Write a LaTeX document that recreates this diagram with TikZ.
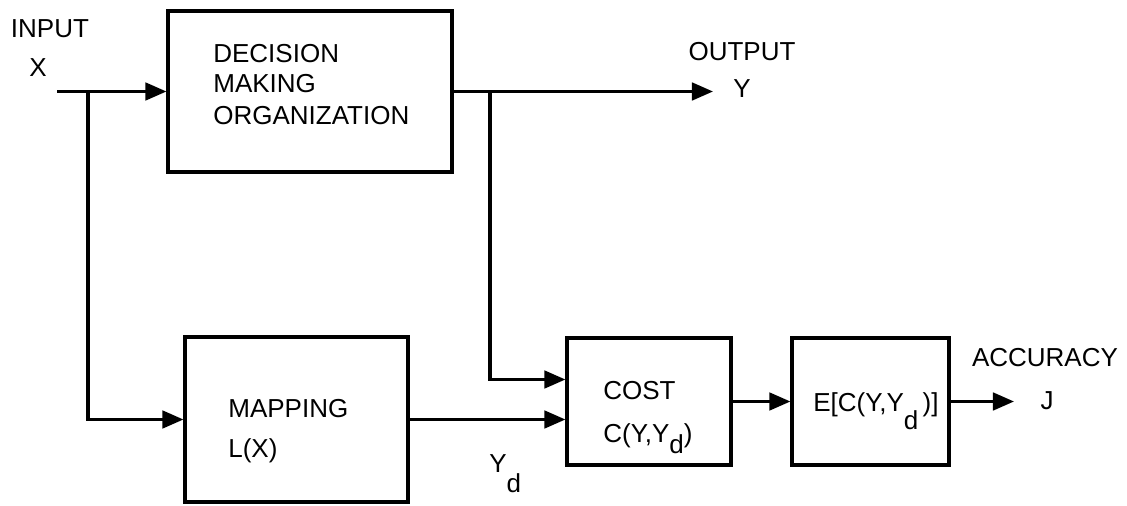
\documentclass[tikz,border=0pt]{standalone}
\usepackage{fontspec}
\setmainfont{Liberation Sans}
\usetikzlibrary{arrows.meta}
\newcommand{\lowd}[1]{\raisebox{-#1}{d}}

\begin{document}
\begin{tikzpicture}[x=0.02cm, y=-0.02cm,
    every node/.style={font=\fontsize{14.8}{17.6}\selectfont},
    blk/.style={draw, line width=1.8pt, inner sep=0pt},
    txt/.style={inner sep=0pt, anchor=base west},
    lbl/.style={inner sep=0pt, anchor=base},
    wire/.style={line width=1.8pt},
    sig/.style={wire, -{Triangle[length=12pt, width=10pt]}}]
    \useasboundingbox (0,0) rectangle (1127,506);

    % Blocks
    \node[blk, minimum width=5.68cm, minimum height=3.22cm] (dmo) at (310,91.5) {};
    \node[blk, minimum width=4.46cm, minimum height=3.3cm] (map) at (296.5,419.5) {};
    \node[blk, minimum width=3.28cm, minimum height=2.54cm] (cost) at (649,401.5) {};
    \node[blk, minimum width=3.14cm, minimum height=2.54cm] (expect) at (870.5,401.5) {};

    % Block texts
    \node[txt] (dmo1) at (213,63) {DECISION};
    \node[txt] (dmo2) at (213,93) {MAKING};
    \node[txt] (dmo3) at (213,125) {ORGANIZATION};
    \node[txt] (map1) at (228,418) {MAPPING};
    \node[txt] (map2) at (228,458) {L(X)};
    \node[txt] (cost1) at (603,400) {COST};
    \node[txt] (cost2) at (603,443) {C(Y,Y\lowd{6pt})};
    \node[txt] (expect1) at (813,412) {E[C(Y,Y\lowd{10pt}\,)]};

    % Labels
    \node[lbl] (inlbl) at (50,38) {INPUT};
    \node[lbl] (inx) at (38,77) {X};
    \node[lbl] (outlbl) at (742,61) {OUTPUT};
    \node[lbl] (outy) at (742,98) {Y};
    \node[lbl] (acclbl) at (1045,367) {ACCURACY};
    \node[lbl] (accj) at (1047,410) {J};
    \node[txt] (yd) at (489,473) {Y\lowd{11pt}};

    % Free ends and branch points
    \coordinate (in) at (57,91.5);
    \coordinate (split1) at (88,91.5);
    \coordinate (split2) at (490,91.5);
    \coordinate (outtip) at (713,91.5);
    \coordinate (acctip) at (1014,401.5);

    % Connectors
    \draw[sig] (in) -- (dmo.west);
    \draw[sig] (split1) |- (map.west);
    \draw[sig] (dmo.east) -- (outtip);
    \draw[sig] (split2) |- ([yshift=0.8cm]map.east -| cost.west);
    \draw[sig] (map.east) -- (map.east -| cost.west);
    \draw[sig] (cost.east) -- (expect.west);
    \draw[sig] (expect.east) -- (acctip);
\end{tikzpicture}
\end{document}
